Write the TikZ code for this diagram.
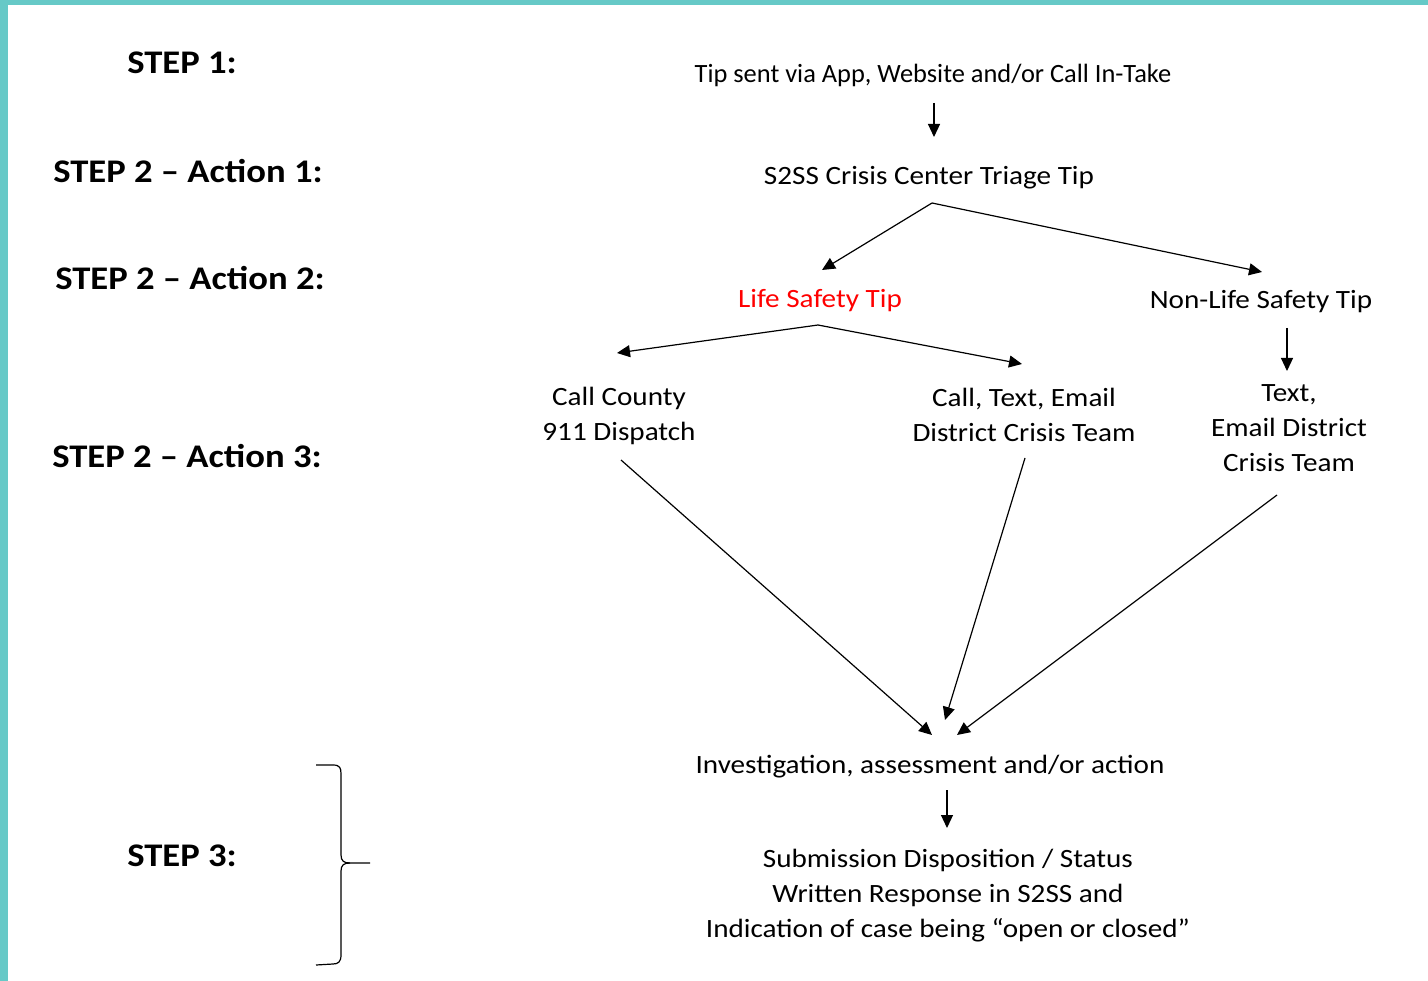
\documentclass[tikz,border=0pt]{standalone}
\usepackage{fontspec}
\setmainfont{Carlito}
\newfontfamily\stepfont[FakeStretch=1.11]{Carlito Bold}
\newfontfamily\widefont[FakeStretch=1.105]{Carlito}
\usetikzlibrary{arrows.meta}
\definecolor{teal1}{RGB}{102,201,199}
\definecolor{redtxt}{RGB}{255,0,0}
\tikzset{
  x=1pt, y=-1pt,
  txt/.style={font=\widefont\fontsize{26.4}{35}\selectfont, align=center, inner sep=0pt},
  tiptxt/.style={font=\fontsize{26.4}{35}\selectfont, align=center, inner sep=0pt},
  steplbl/.style={font=\stepfont\fontsize{33}{35}\selectfont, inner sep=0pt},
  arr/.style={line width=1.2pt, -{Triangle[length=13pt,width=12pt]}},
  ln/.style={line width=1.2pt}
}
\begin{document}
\begin{tikzpicture}
\useasboundingbox (0,0) rectangle (1428,981);
\fill[white] (0,0) rectangle (1428,981);
\fill[teal1] (0,0) rectangle (1428,5);
\fill[teal1] (0,0) rectangle (8,981);

% step labels
\node[steplbl] (s1) at (182,63) {STEP 1:};
\node[steplbl] (s21) at (188,171) {STEP 2 – Action 1:};
\node[steplbl] (s22) at (190,278) {STEP 2 – Action 2:};
\node[steplbl] (s23) at (187,456) {STEP 2 – Action 3:};
\node[steplbl] (s3) at (182,856) {STEP 3:};

% flow text
\node[tiptxt] (tip) at (933,75) {Tip sent via App, Website and/or Call In-Take};
\node[txt] (triage) at (929,178) {S2SS Crisis Center Triage Tip};
\node[txt, text=redtxt] (life) at (820,301) {Life Safety Tip};
\node[txt] (nonlife) at (1261,302) {Non-Life Safety Tip};
\node[txt] (county) at (619,416) {Call County\\911 Dispatch};
\node[txt] (district) at (1024,415) {Call, Text, Email\\District Crisis Team};
\node[txt] (textemail) at (1289,428) {Text,\\Email District\\Crisis Team};
\node[txt] (invest) at (930,767) {Investigation, assessment and/or action};
\node[txt] (submit) at (948,896) {Submission Disposition / Status\\Written Response in S2SS and\\Indication of case being \textquotedblleft open or closed\textquotedblright};

% connector coordinates
\coordinate (a1s) at (934,103);
\coordinate (a1e) at (934,137);
\coordinate (tapex) at (932,203);
\coordinate (tl) at (822,270);
\coordinate (tr) at (1262,272);
\coordinate (lapex) at (818,325);
\coordinate (ll) at (617,353);
\coordinate (lr) at (1022,364);
\coordinate (ns) at (1287,328);
\coordinate (ne) at (1287,371);
\coordinate (cs) at (621,460);
\coordinate (ce) at (932,735);
\coordinate (ds) at (1025,458);
\coordinate (de) at (945,720);
\coordinate (es) at (1277,495);
\coordinate (ee) at (957,735);
\coordinate (bs) at (947,790);
\coordinate (be) at (947,828);

\draw[arr] (a1s) -- (a1e);
\draw[arr] (tapex) -- (tl);
\draw[arr] (tapex) -- (tr);
\draw[arr] (lapex) -- (ll);
\draw[arr] (lapex) -- (lr);
\draw[arr] (ns) -- (ne);
\draw[arr] (cs) -- (ce);
\draw[arr] (ds) -- (de);
\draw[arr] (es) -- (ee);
\draw[arr] (bs) -- (be);

% brace
\draw[ln] (316,765) -- (333,765) .. controls (340,765) and (341,768) .. (341,774)
  -- (341,855) .. controls (341,861) and (344,863) .. (350,863) -- (370,863);
\draw[ln] (350,863) .. controls (344,863) and (341,865) .. (341,871)
  -- (341,955) .. controls (341,962) and (338,964) .. (333,964) -- (316,965);
\end{tikzpicture}
\end{document}
